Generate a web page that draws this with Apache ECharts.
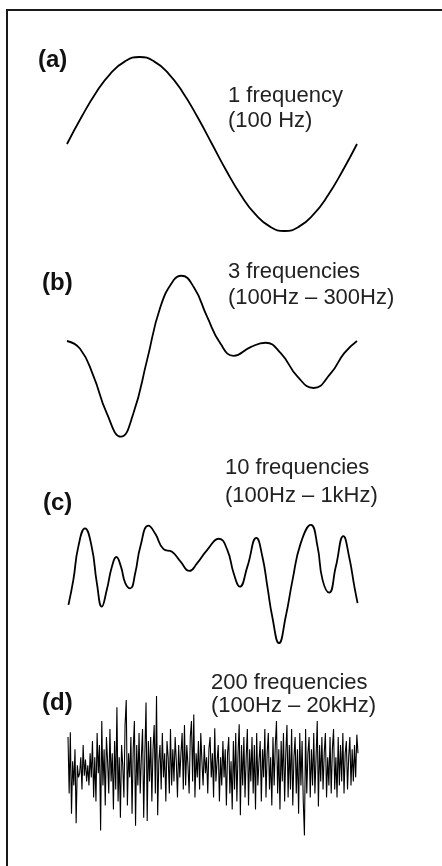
<!DOCTYPE html>
<html>
<head>
<meta charset="utf-8">
<script src="https://cdn.jsdelivr.net/npm/echarts@6/dist/echarts.min.js"></script>
<style>
html,body{margin:0;padding:0;background:#fff;}
#chart{width:442px;height:866px;}
</style>
</head>
<body>
<div id="chart"></div>
<script>
// Panel labels and descriptions
const panelTags = ['(a)', '(b)', '(c)', '(d)'];
const panelLine1 = ['1 frequency', '3 frequencies', '10 frequencies', '200 frequencies'];
const panelLine2 = ['(100 Hz)', '(100Hz \u2013 300Hz)', '(100Hz \u2013 1kHz)', '(100Hz \u2013 20kHz)'];

// (a) 1 frequency: time in ms, amplitude (arbitrary units)
const aTime = [0,0.5,1,1.5,2,2.5,3,3.5,4,4.5,5,5.5,6,6.5,7,7.5,8,8.5,9,9.5,10];
const aAmp  = [0,31,59,81,95,100,95,81,59,31,0,-31,-59,-81,-95,-100,-95,-81,-59,-31,0];

// (b) 3 frequencies
const bTime = [0,0.45,0.91,1.37,1.86,2.29,2.76,3.22,3.68,3.94,4.37,4.83,5.29,5.75,6.33,6.85,7.37,7.95,8.5,9.1,9.56,10];
const bAmp  = [0,-9,-40,-83,-110,-83,-22,39,70,75,62,28,-3,-17,-7,-2,-14,-41,-54,-37,-14,0];

// (c) 10 frequencies
const cTime = [0.05,0.22,0.39,0.62,0.85,1.03,1.2,1.37,1.55,1.7,1.86,2.01,2.18,2.35,2.53,2.81,3.04,3.33,3.62,3.91,4.22,4.49,4.83,5.24,5.53,5.75,5.96,6.22,6.53,6.74,6.91,7.08,7.31,7.54,7.78,8.06,8.41,8.64,8.81,9.04,9.27,9.53,9.73,9.91,10.02];
const cAmp  = [-1,28,66,87,66,24,-3,16,43,54,43,24,18,35,66,90,81,63,60,49,38,47,62,75,62,35,20,43,76,54,20,-15,-45,-15,28,70,91,66,28,13,43,78,54,20,1];

// (d) 200 frequencies: evenly sampled amplitudes
const dAmp = [
 40,-30,46,-55,10,-20,25,-67,5,-10,
 -5,15,-25,30,-8,12,-15,5,-20,20,
 -10,35,-35,15,-40,45,-5,30,-76,60,
 -20,25,-45,40,10,-30,50,-15,20,-50,
 35,-25,77,-40,15,-60,30,5,-35,55,
 86,-45,20,-10,40,-55,25,60,-70,30,
 -20,45,-30,15,50,-60,20,83,-64,35,
 -15,40,-40,25,55,-30,91,-57,10,30,
 -25,45,-10,20,-40,35,15,-30,50,-20,
 25,-15,40,10,-35,30,-10,20,45,-25,
 55,-20,30,5,-30,40,60,-15,68,-35,
 20,-10,35,-25,45,10,-20,30,-5,15,
 -30,25,40,-10,20,-35,51,-15,10,30,
 -40,15,-20,35,-10,25,-45,20,40,-30,
 10,-50,35,-25,45,-40,20,56,-57,30,
 -20,40,-35,15,50,-45,25,-15,40,-30,
 30,-50,45,-20,10,35,-40,25,-10,50,
 -35,20,45,-25,15,-45,40,-20,30,60,
 -30,25,-50,35,-15,45,-40,20,55,-35,
 30,-25,50,-45,15,40,-30,25,-55,45,
 -20,35,-40,-82,50,-30,20,40,-35,25,
 -20,45,-30,15,60,-46,30,-15,40,-25,
 20,45,-35,15,-20,40,-30,25,50,-25,
 15,-35,40,-20,30,-15,45,-30,20,35,
 -25,15,40,-20,25,-15,30,-10,43,20
];
const dSamples = dAmp.map((_, i) => String(i));

const chart = echarts.init(document.getElementById('chart'), null, {renderer: 'canvas'});

const zip = (t, v) => t.map((x, i) => [x, v[i]]);
const gridTops = [39.6, 236.6, 499.6, 672.6];
const gridH = 208.8;

const grids = gridTops.map((top, i) => ({left: i === 3 ? 68 : 67, width: 290, top: top, height: gridH, containLabel: false}));
const xAxes = gridTops.map((_, i) => i === 3
  ? {type: 'category', gridIndex: i, data: dSamples, boundaryGap: false, show: false}
  : {type: 'value', gridIndex: i, min: 0, max: 10, show: false});
const yAxes = gridTops.map((_, i) => ({type: 'value', gridIndex: i, min: -120, max: 120, show: false}));

const lineBase = {type: 'line', showSymbol: false, symbol: 'none', clip: false, animation: false};
const series = [
  Object.assign({}, lineBase, {xAxisIndex: 0, yAxisIndex: 0, data: zip(aTime, aAmp), smooth: 0.5, lineStyle: {color: '#000', width: 1.8}}),
  Object.assign({}, lineBase, {xAxisIndex: 1, yAxisIndex: 1, data: zip(bTime, bAmp), smooth: 0.5, lineStyle: {color: '#000', width: 1.8}}),
  Object.assign({}, lineBase, {xAxisIndex: 2, yAxisIndex: 2, data: zip(cTime, cAmp), smooth: 0.5, lineStyle: {color: '#000', width: 1.8}}),
  Object.assign({}, lineBase, {xAxisIndex: 3, yAxisIndex: 3, data: dAmp, smooth: false, lineStyle: {color: '#000', width: 1.1}})
];

const tagPos = [[38, 60], [42, 283], [43, 503], [42, 703]];
const descPos = [[228, 95.5, 120.5], [228, 271.5, 297.5], [225, 468, 496], [211, 683, 706]];
const font = 'Liberation Sans, Arial, Helvetica, sans-serif';

const graphics = [
  {type: 'rect', shape: {x: 7, y: 10, width: 600, height: 1000}, style: {fill: 'none', stroke: '#1a1a1a', lineWidth: 2}, silent: true, z: 10}
];
panelTags.forEach((t, i) => {
  graphics.push({type: 'text', x: tagPos[i][0], y: tagPos[i][1], style: {text: t, fill: '#111', font: 'bold 24px ' + font, verticalAlign: 'middle', align: 'left'}});
  graphics.push({type: 'text', x: descPos[i][0], y: descPos[i][1], style: {text: panelLine1[i], fill: '#222', font: '22px ' + font, verticalAlign: 'middle', align: 'left'}});
  graphics.push({type: 'text', x: descPos[i][0], y: descPos[i][2], style: {text: panelLine2[i], fill: '#222', font: '22px ' + font, verticalAlign: 'middle', align: 'left'}});
});

chart.setOption({
  animation: false,
  backgroundColor: '#fff',
  grid: grids,
  xAxis: xAxes,
  yAxis: yAxes,
  series: series,
  graphic: graphics
});
</script>
</body>
</html>
